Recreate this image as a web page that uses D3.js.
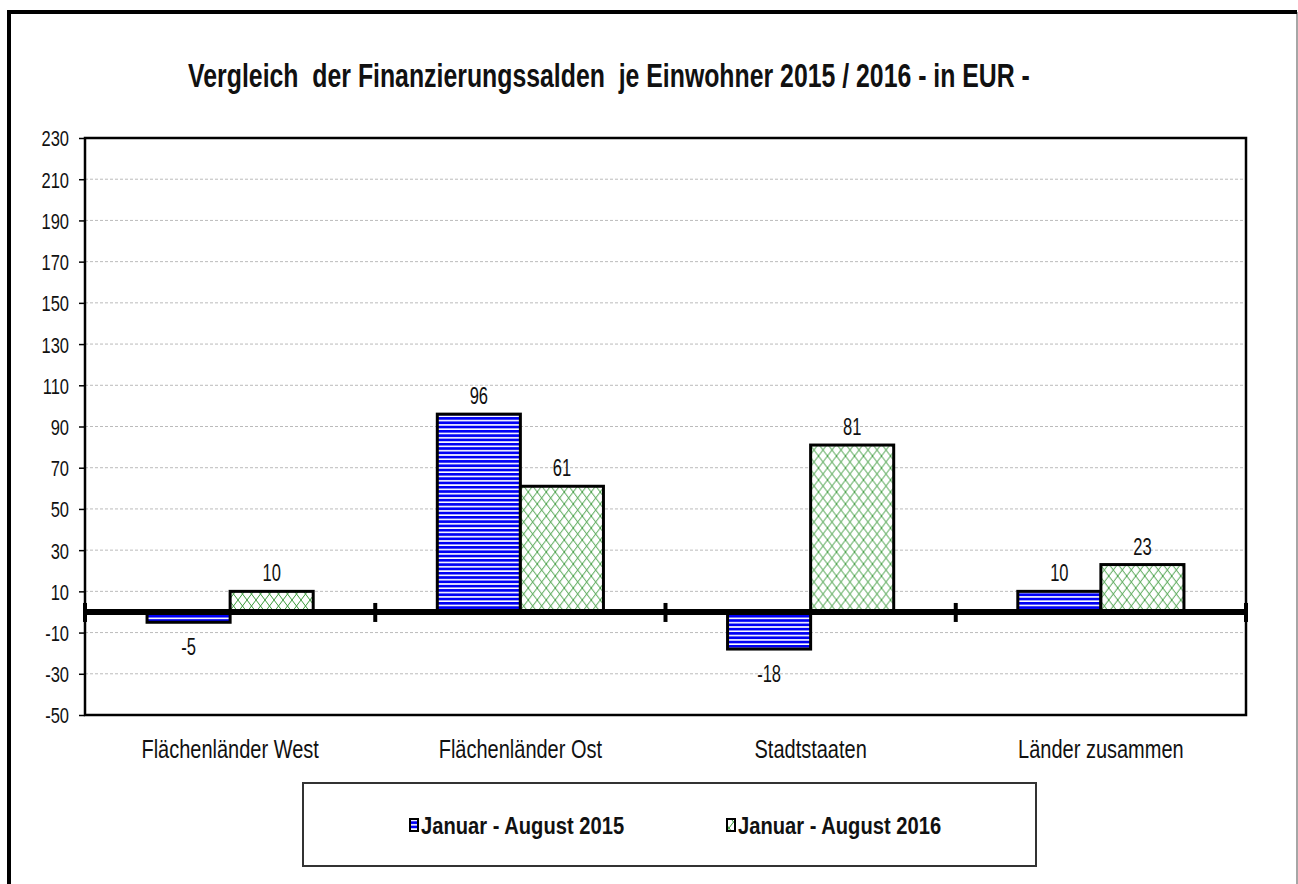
<!DOCTYPE html>
<html>
<head>
<meta charset="utf-8">
<script src="https://cdn.jsdelivr.net/npm/d3@7"></script>
<style>
  html, body { margin: 0; padding: 0; background: #fff; }
  svg { display: block; }
  text { font-family: "Liberation Sans", Arial, sans-serif; fill: #111; white-space: pre; }
</style>
</head>
<body>
<svg id="chart" width="1298" height="884"></svg>
<script>
// data
const title = "Vergleich  der Finanzierungssalden  je Einwohner 2015 / 2016 - in EUR -";
const categories = ["Flächenländer West", "Flächenländer Ost", "Stadtstaaten", "Länder zusammen"];
const seriesNames = ["Januar - August 2015", "Januar - August 2016"];
const values2015 = [-5, 96, -18, 10];
const values2016 = [10, 61, 81, 23];
const yTicks = [-50, -30, -10, 10, 30, 50, 70, 90, 110, 130, 150, 170, 190, 210, 230];

var svg = d3.select('#chart');
var W = 1298, H = 884;
var plot = { left: 85, right: 1246, top: 138, bottom: 715 };

// patterns
var defs = svg.append('defs');
var pBlue = defs.append('pattern').attr('id', 'stripes')
  .attr('patternUnits', 'userSpaceOnUse').attr('width', 8).attr('height', 4.3);
pBlue.append('rect').attr('width', 8).attr('height', 4.3).attr('fill', '#fff');
pBlue.append('rect').attr('width', 8).attr('height', 2.7).attr('fill', '#0000f5');

var pGreen = defs.append('pattern').attr('id', 'cross')
  .attr('patternUnits', 'userSpaceOnUse').attr('width', 9).attr('height', 12);
pGreen.append('rect').attr('width', 9).attr('height', 12).attr('fill', '#fff');
pGreen.append('path').attr('d', 'M0,0L9,12M9,0L0,12M-1,11L1,13M8,-1L10,1')
  .attr('stroke', '#3c9a3c').attr('stroke-width', 1).attr('fill', 'none');

// outer frame (cut at bottom)
svg.append('line').attr('x1', 1297).attr('x2', 1297).attr('y1', 12).attr('y2', H)
  .attr('stroke', '#888').attr('stroke-width', 1.5);
svg.append('path').attr('d', 'M9,' + H + 'L9,12L1297,12')
  .attr('stroke', '#000').attr('stroke-width', 4).attr('fill', 'none');

// helper for narrow text
function txt(x, y, s, size, weight, anchor, kx) {
  var g = svg.append('g').attr('transform', 'translate(' + x + ',' + y + ') scale(' + kx + ',1)');
  return g.append('text').attr('text-anchor', anchor || 'middle')
    .attr('font-size', size).attr('font-weight', weight || 'normal').text(s);
}

// title, fitted to its width in the picture
var t = svg.append('g');
var tt = t.append('text').attr('text-anchor', 'middle').attr('font-size', 34)
  .attr('font-weight', 'bold').text(title);
var tw = tt.node().getComputedTextLength();
t.attr('transform', 'translate(609,87) scale(' + (842 / tw) + ',1)');

// scales
var y = d3.scaleLinear().domain([-50, 230]).range([plot.bottom, plot.top]);
var x0 = d3.scaleBand().domain(categories).range([plot.left, plot.right]);
var x1 = d3.scaleBand().domain(seriesNames).range([0, x0.bandwidth()]).paddingOuter(0.747);

// grid
svg.append('g').selectAll('line').data(yTicks.filter(function (d) { return d > -50 && d < 230; }))
  .enter().append('line')
  .attr('x1', plot.left).attr('x2', plot.right)
  .attr('y1', function (d) { return y(d); }).attr('y2', function (d) { return y(d); })
  .attr('stroke', '#bbb').attr('stroke-width', 1).attr('stroke-dasharray', '3,2');

// y axis
var kx = 0.75;
var yAxis = svg.append('g').attr('transform', 'translate(' + plot.left + ',0)')
  .call(d3.axisLeft(y).tickValues(yTicks).tickSize(6).tickFormat(function (d) { return String(d); }));
yAxis.select('.domain').remove();
yAxis.selectAll('.tick line').attr('stroke', '#000').attr('stroke-width', 1.5);
yAxis.selectAll('.tick text')
  .attr('x', -16 / kx).attr('dy', '0.36em')
  .attr('transform', 'scale(' + kx + ',1)')
  .attr('font-size', 22).attr('fill', '#111')
  .style('font-family', '"Liberation Sans", Arial, sans-serif');

// bars
var rows = categories.map(function (c, i) {
  return { cat: c, vals: [values2015[i], values2016[i]] };
});
var fills = ['url(#stripes)', 'url(#cross)'];
var groups = svg.append('g').selectAll('g').data(rows).enter().append('g')
  .attr('transform', function (d) { return 'translate(' + x0(d.cat) + ',0)'; });
groups.selectAll('rect').data(function (d) {
  return d.vals.map(function (v, j) { return { s: seriesNames[j], v: v, j: j }; });
}).enter().append('rect')
  .attr('x', function (d) { return x1(d.s); })
  .attr('width', x1.bandwidth())
  .attr('y', function (d) { return y(Math.max(0, d.v)); })
  .attr('height', function (d) { return Math.abs(y(d.v) - y(0)); })
  .attr('fill', function (d) { return fills[d.j]; })
  .attr('stroke', '#000').attr('stroke-width', 3);

// value labels
rows.forEach(function (r) {
  r.vals.forEach(function (v, j) {
    var cx = x0(r.cat) + x1(seriesNames[j]) + x1.bandwidth() / 2;
    var yy = v >= 0 ? y(v) - 10 : y(v) + 33;
    txt(cx, yy, String(v), 23, 'normal', 'middle', 0.72);
  });
});

// plot border
svg.append('rect').attr('x', plot.left).attr('y', plot.top)
  .attr('width', plot.right - plot.left).attr('height', plot.bottom - plot.top)
  .attr('fill', 'none').attr('stroke', '#000').attr('stroke-width', 2.5);

// category axis on zero
var y0 = y(0);
svg.append('line').attr('x1', plot.left - 2).attr('x2', plot.right + 2)
  .attr('y1', y0).attr('y2', y0).attr('stroke', '#000').attr('stroke-width', 6);
var bounds = categories.map(function (c) { return x0(c); }).concat([plot.right]);
svg.append('g').selectAll('line').data(bounds).enter().append('line')
  .attr('x1', function (d) { return d; }).attr('x2', function (d) { return d; })
  .attr('y1', y0 - 9).attr('y2', y0 + 10)
  .attr('stroke', '#000').attr('stroke-width', 4);

// category labels
categories.forEach(function (c) {
  txt(x0(c) + x0.bandwidth() / 2, 758, c, 25, 'normal', 'middle', 0.8);
});

// legend
svg.append('rect').attr('x', 303).attr('y', 783).attr('width', 733).attr('height', 83)
  .attr('fill', '#fff').attr('stroke', '#333').attr('stroke-width', 2);
var legX = [410, 727];
seriesNames.forEach(function (s, j) {
  svg.append('rect').attr('x', legX[j]).attr('y', 819).attr('width', 8).attr('height', 12)
    .attr('fill', fills[j]).attr('stroke', '#000').attr('stroke-width', 2);
  txt(legX[j] + 11, 834, s, 24, 'bold', 'start', 0.84);
});
</script>
</body>
</html>
